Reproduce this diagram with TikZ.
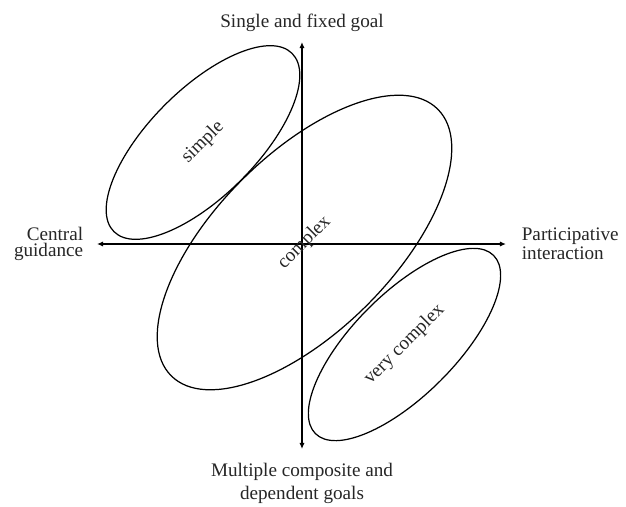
\documentclass[tikz,border=0pt]{standalone}
\usepackage{fontspec}
\setmainfont{Liberation Serif}
\usepackage{tikz}
\usetikzlibrary{arrows.meta,positioning,shapes.geometric}

\begin{document}
\begin{tikzpicture}[
		>={Latex[length=3.5pt,width=3pt]},
		axis/.style={
			line width=0.8pt, <->
		},
		region/.style={
			draw, ellipse, rotate=45, inner sep=0pt, line width=0.7pt, text=black!85
		},
		pole/.style={
			inner sep=0pt, text=black!85, font=\fontsize{10.9}{9.4}\selectfont
		},
		font=\fontsize{10.9}{9.4}\selectfont,
		]
		\useasboundingbox (-6.04,-5.24) rectangle (6.48,4.88);
		
		% Axes
		\coordinate (xleft) at (-4.10,0);
		\coordinate (xright) at (4.08,0);
		\coordinate (ytop) at (0,4.04);
		\coordinate (ybot) at (0,-4.10);
		\draw [axis] (xleft) -- (xright);
		\draw [axis] (ybot) -- (ytop);
		
		% Poles
		\node [pole, above=0.21cm of ytop] (goal1) {Single and fixed goal};
		\node [pole, below=0.27cm of ybot, align=center, font=\fontsize{10.9}{13.4}\selectfont] (goal2) {Multiple composite and\\dependent goals};
		\node [pole, left=0.27cm of xleft, align=right] (central) {Central\\guidance};
		\node [pole, right=0.31cm of xright, align=left] (partic) {Participative\\interaction};
		
		% Regions
		\node [region, minimum width=5.04cm, minimum height=2.14cm] (simple) at (-1.98,2.03) {simple};
		\node [region, minimum width=7.54cm, minimum height=3.54cm] (complex) at (0.05,0.03) {complex};
		\node [region, minimum width=5.04cm, minimum height=2.04cm] (vcomplex) at (2.05,-2.01) {very complex};
		
	\end{tikzpicture}
\end{document}
